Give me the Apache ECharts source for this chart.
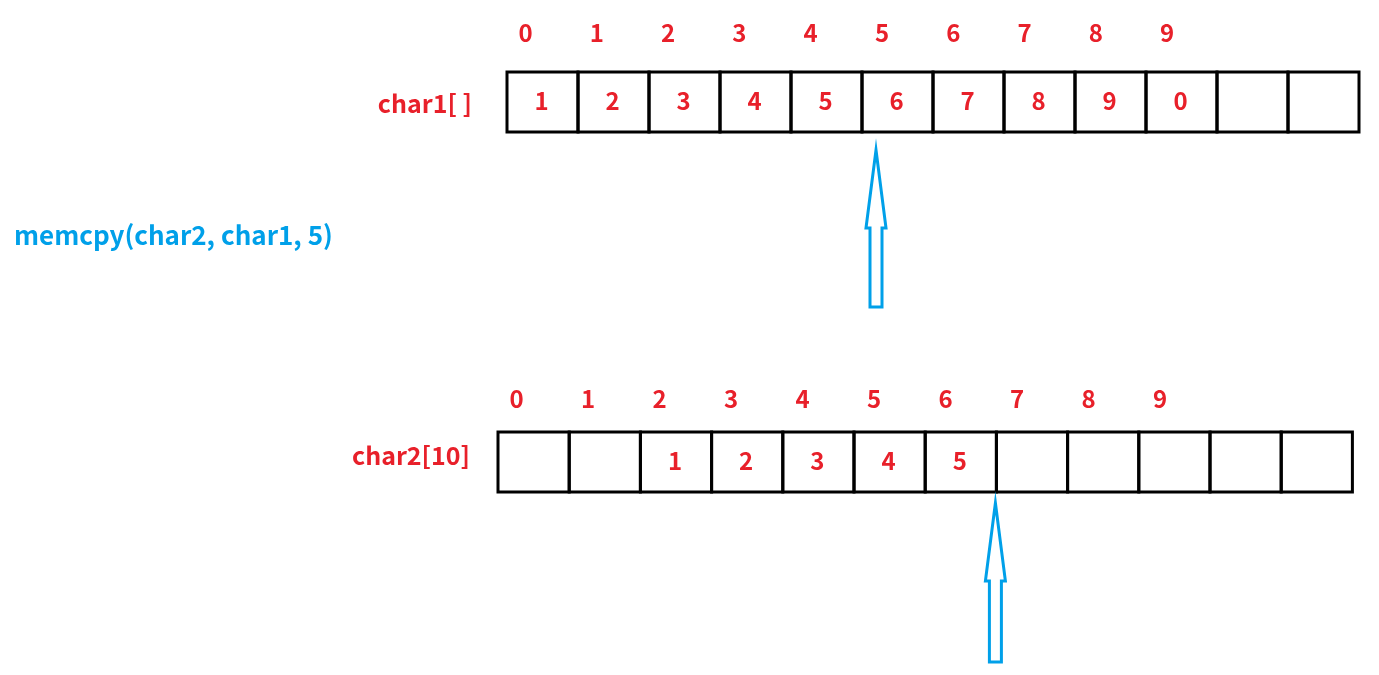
<!DOCTYPE html>
<html><head><meta charset="utf-8">
<script src="https://cdn.jsdelivr.net/npm/echarts@6/dist/echarts.min.js"></script>
<style>html,body{margin:0;padding:0;background:#fff}#c{width:1379px;height:675px}</style>
</head><body><div id="c"></div>
<script>
const indices = ['0','1','2','3','4','5','6','7','8','9'];
const char1Values = ['1','2','3','4','5','6','7','8','9','0','',''];
const char2Values = ['','','1','2','3','4','5','','','','',''];
const arrayNames = ['char1[ ]','char2[10]'];
const callText = 'memcpy(char2, char1, 5)';
const arrowCells = [5, 7];

const RED = '#e8202a', BLUE = '#00a0e9', FONT = '"Noto Sans CJK SC","Noto Sans",sans-serif';
const arrays = [
  {x0:507, y0:72, w:71, h:60, idxY:33, vals:char1Values, name:arrayNames[0], nameX:472, nameY:103, arrowTop:150, arrowBot:307},
  {x0:498, y0:432, w:71.2, h:60, idxY:399, vals:char2Values, name:arrayNames[1], nameX:470, nameY:455, arrowTop:503, arrowBot:662}
];

const chart = echarts.init(document.getElementById('c'));
function renderItem(params, api) {
  const a = arrays[api.value(0)];
  const ch = [];
  const P = (x,y)=>api.coord([x,y]);
  a.vals.forEach((v,i)=>{
    const p = P(a.x0+i*a.w, a.y0);
    ch.push({type:'rect', shape:{x:p[0],y:p[1],width:a.w,height:a.h}, style:{fill:'none',stroke:'#000',lineWidth:3}});
    if (v) { const c = P(a.x0+i*a.w+a.w/2-1, a.y0+a.h/2-1);
      ch.push({type:'text', style:{x:c[0],y:c[1],text:v,fill:RED,font:'bold 24px '+FONT,align:'center',verticalAlign:'middle'}}); }
  });
  indices.forEach((t,i)=>{ const c = P(a.x0+i*a.w+a.w/2-17+i*0.3, a.idxY);
    ch.push({type:'text', style:{x:c[0],y:c[1],text:t,fill:RED,font:'bold 24px '+FONT,align:'center',verticalAlign:'middle'}}); });
  const n = P(a.nameX, a.nameY);
  ch.push({type:'text', style:{x:n[0],y:n[1],text:a.name,fill:RED,font:'bold 25px '+FONT,align:'right',verticalAlign:'middle'}});
  // arrow
  const cx = a.x0 + arrowCells[api.value(0)]*a.w + (api.value(0)===0?14:-1);
  const hb = a.arrowTop+78;
  const pts = [[cx,a.arrowTop],[cx+10,hb],[cx+6,hb],[cx+6,a.arrowBot],[cx-6,a.arrowBot],[cx-6,hb],[cx-10,hb]].map(q=>P(q[0],q[1]));
  ch.push({type:'polygon', shape:{points:pts}, style:{fill:'#fff',stroke:BLUE,lineWidth:3}});
  return {type:'group', children:ch};
}
chart.setOption({
  animation:false,
  grid:{left:0,right:0,top:0,bottom:0},
  xAxis:{type:'value',min:0,max:1379,show:false},
  yAxis:{type:'value',min:0,max:675,inverse:true,show:false},
  graphic:[{type:'text',left:14,top:222,style:{text:callText,fill:BLUE,font:'bold 26px '+FONT}}],
  series:[{type:'custom',renderItem, data:[[0],[1]], silent:true}]
});
</script></body></html>
